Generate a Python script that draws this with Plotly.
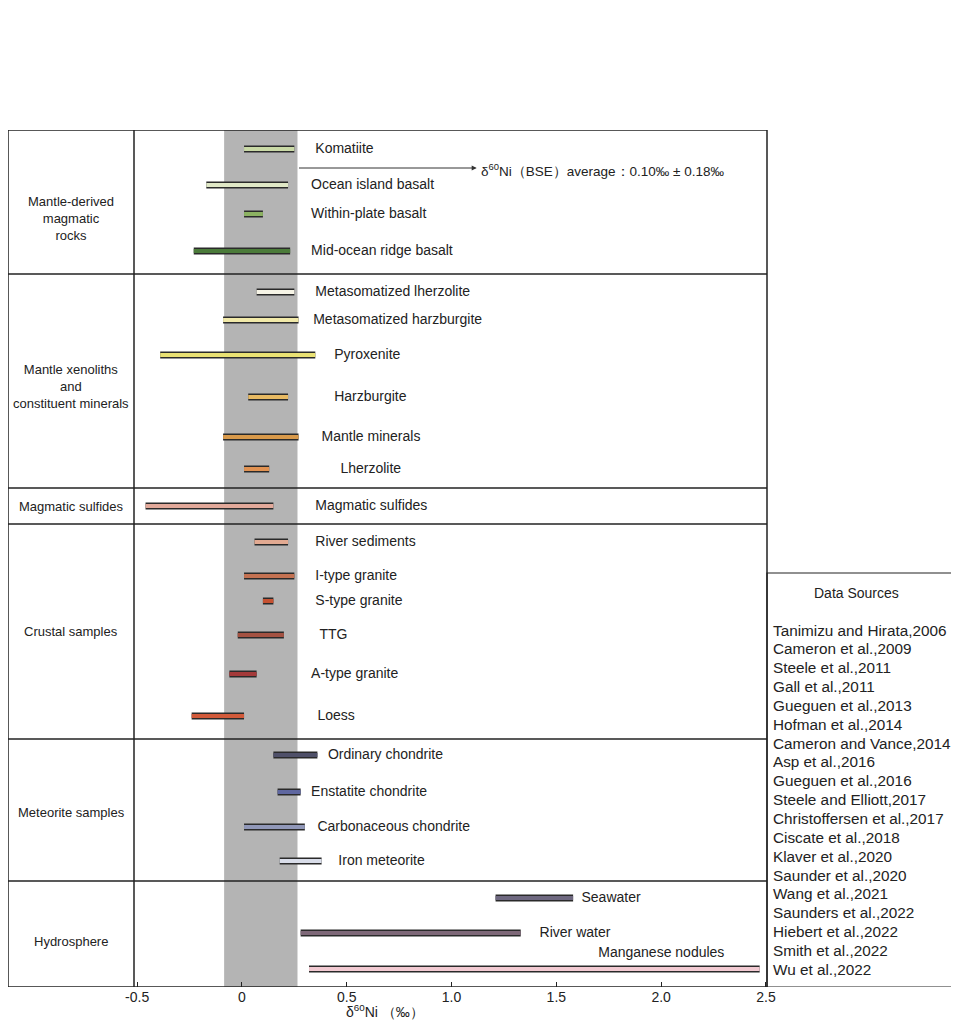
import plotly.graph_objects as go

names = ["Komatiite","Ocean island basalt","Within-plate basalt","Mid-ocean ridge basalt",
         "Metasomatized lherzolite","Metasomatized harzburgite","Pyroxenite","Harzburgite",
         "Mantle minerals","Lherzolite","Magmatic sulfides","River sediments","I-type granite",
         "S-type granite","TTG","A-type granite","Loess","Ordinary chondrite","Enstatite chondrite",
         "Carbonaceous chondrite","Iron meteorite","Seawater","River water","Manganese nodules"]
lo = [0.01,-0.17,0.01,-0.23,0.07,-0.09,-0.39,0.03,-0.09,0.01,-0.46,0.06,0.01,0.10,-0.02,-0.06,-0.24,
      0.15,0.17,0.01,0.18,1.21,0.28,0.32]
hi = [0.25,0.22,0.10,0.23,0.25,0.27,0.35,0.22,0.27,0.13,0.15,0.22,0.25,0.15,0.20,0.07,0.01,
      0.36,0.28,0.30,0.38,1.58,1.33,2.47]
row = [149,185,214,251,292,320,355,397,437,469,506,542,576,601,635,674,716,755,792,827,861,898,933,969]
label_x = [0.35,0.33,0.33,0.33,0.35,0.34,0.44,0.44,0.38,0.47,0.35,0.35,0.35,0.35,0.37,0.33,0.36,
           0.41,0.33,0.36,0.46,1.62,1.42,1.70]
label_row = row[:23] + [953]
colors = ["#c9d9a6","#e0e8c6","#8cb262","#4b7b3a","#f6f4e6","#f1e9a9","#e9e173","#e8ba63",
          "#d99a4b","#e19252","#e2a99a","#e2aa92","#c47252","#c65232","#a45242","#a43a3a","#d25a3a",
          "#4f5069","#5f67a0","#9198b9","#d9dde9","#6e6880","#7e6878","#f2cad2"]
groups = ["Mantle-derived<br>magmatic<br>rocks","Mantle xenoliths<br>and<br>constituent minerals",
          "Magmatic sulfides","Crustal samples","Meteorite samples","Hydrosphere"]
group_row = [218,386,506,631,812,941]
separators = [274,488,524,739,881]
sources = ["Tanimizu and Hirata,2006","Cameron et al.,2009","Steele et al.,2011","Gall et al.,2011",
           "Gueguen et al.,2013","Hofman et al.,2014","Cameron and Vance,2014","Asp et al.,2016",
           "Gueguen et al.,2016","Steele and Elliott,2017","Christoffersen et al.,2017","Ciscate et al.,2018",
           "Klaver et al.,2020","Saunder et al.,2020","Wang et al.,2021","Saunders et al.,2022",
           "Hiebert et al.,2022","Smith et al.,2022","Wu et al.,2022"]
band_lo, band_hi = -0.085, 0.265
xticks = [-0.5,0,0.5,1.0,1.5,2.0,2.5]
xticktext = ["-0.5","0","0.5","1.0","1.5","2.0","2.5"]

OFF = 8
W, H = 951, 1016
X0, X1 = -0.515, 2.505
fig = go.Figure()
FAM = "Liberation Sans, Arial"
font = dict(family=FAM, size=14, color="#222")

for n, a, b, y, c in zip(names, lo, hi, row, colors):
    fig.add_trace(go.Scatter(x=[a, b], y=[y, y], mode="lines", line=dict(color="#2a2a2a", width=7),
                             hoverinfo="skip", showlegend=False))
    fig.add_trace(go.Scatter(x=[a, b], y=[y, y], mode="lines", line=dict(color=c, width=4),
                             name=n, showlegend=False))
fig.add_trace(go.Scatter(x=label_x, y=label_row, mode="text", text=names, textposition="middle right",
                         textfont=font, showlegend=False, hoverinfo="skip"))

px = lambda v: (v - OFF) / W
py = lambda v: 1 - (v - OFF) / H
shapes = [dict(type="rect", xref="x", yref="y", x0=band_lo, x1=band_hi, y0=987, y1=130,
               fillcolor="#b4b4b4", line_width=0, layer="below")]
shapes.append(dict(type="rect", xref="paper", yref="y", x0=0, x1=px(767), y0=987, y1=130,
                   line=dict(color="#222", width=1.5)))
shapes.append(dict(type="line", xref="paper", yref="y", x0=px(134), x1=px(134), y0=987, y1=130,
                   line=dict(color="#222", width=1.5)))
for s in separators:
    shapes.append(dict(type="line", xref="paper", yref="y", x0=0, x1=px(767), y0=s, y1=s,
                       line=dict(color="#222", width=1.5)))
shapes.append(dict(type="rect", xref="paper", yref="y", x0=px(767), x1=px(958), y0=987, y1=573,
                   line=dict(color="#222", width=1.2)))

ann = [dict(x=1.12, y=168, ax=band_hi, ay=168, xref="x", yref="y", axref="x", ayref="y", text="",
            showarrow=True, arrowhead=2, arrowsize=1, arrowwidth=1, arrowcolor="#333"),
       dict(x=1.13, y=170, xref="x", yref="y", text="δ<sup>60</sup>Ni（BSE）average：0.10‰ ± 0.18‰",
            showarrow=False, xanchor="left", font=dict(family=FAM, size=13.5, color="#222")),
       dict(x=px(856), y=593, xref="paper", yref="y", text="Data Sources", showarrow=False,
            xanchor="center", font=font),
       dict(x=px(385), y=py(1022), xref="paper", yref="paper", text="δ<sup>60</sup>Ni （‰）", showarrow=False,
            xanchor="center", font=dict(family=FAM, size=14, color="#222"))]
for g, r in zip(groups, group_row):
    ann.append(dict(x=px(71), y=r, xref="paper", yref="y", text=g, showarrow=False, xanchor="center",
                    font=dict(family=FAM, size=13, color="#222")))
for i, s in enumerate(sources):
    ann.append(dict(x=px(771), y=630 + i * 18.85, xref="paper", yref="y", text=s, showarrow=False,
                    xanchor="left", font=dict(family=FAM, size=15.3, color="#222")))

fig.update_layout(width=W, height=H, margin=dict(l=0, r=0, t=0, b=0, autoexpand=False), plot_bgcolor="white",
                  paper_bgcolor="white", shapes=shapes, annotations=ann,
                  xaxis=dict(domain=[px(134), px(767)], range=[X0, X1], tickvals=xticks, ticktext=xticktext,
                             ticks="inside", ticklen=5, tickcolor="#222", showgrid=False, zeroline=False,
                             showline=False, tickfont=dict(family=FAM, size=14, color="#222")),
                  yaxis=dict(domain=[py(987), py(130)], range=[987, 130], visible=False))
fig.write_html("out.html")
